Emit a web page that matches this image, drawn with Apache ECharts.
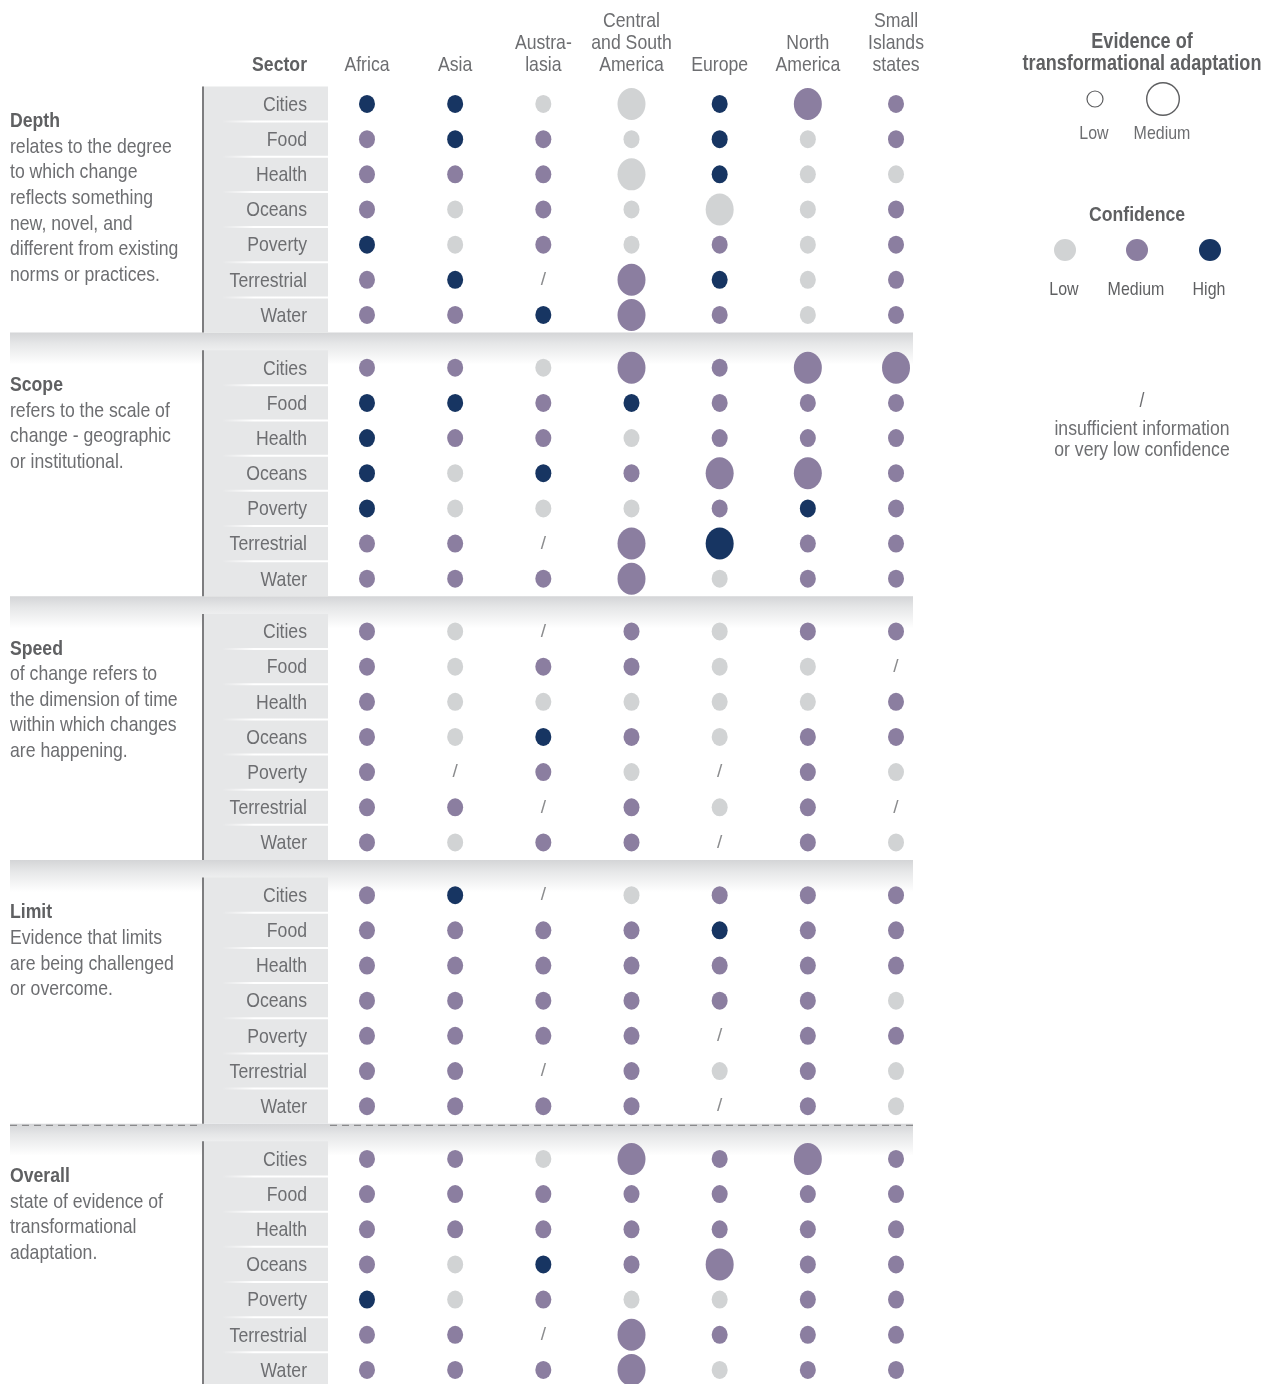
<!DOCTYPE html>
<html>
<head>
<meta charset="utf-8">
<title>Evidence of transformational adaptation</title>
<script src="https://cdn.jsdelivr.net/npm/echarts@6/dist/echarts.min.js"></script>
<style>
  html, body { margin: 0; padding: 0; background: #ffffff; }
  #chart { width: 1262px; height: 1384px; }
</style>
</head>
<body>
<div id="chart"></div>
<script>
// Regions (columns), sectors (rows) and assessment dimensions (row blocks)
const regions = ['Africa', 'Asia', 'Austra-\nlasia', 'Central\nand South\nAmerica', 'Europe', 'North\nAmerica', 'Small\nIslands\nstates'];
const sectors = ['Cities', 'Food', 'Health', 'Oceans', 'Poverty', 'Terrestrial', 'Water'];
const dimensions = ['Depth', 'Scope', 'Speed', 'Limit', 'Overall'];
const dimensionNotes = [
  'relates to the degree\nto which change\nreflects something\nnew, novel, and\ndifferent from existing\nnorms or practices.',
  'refers to the scale of\nchange - geographic\nor institutional.',
  'of change refers to\nthe dimension of time\nwithin which changes\nare happening.',
  'Evidence that limits\nare being challenged\nor overcome.',
  'state of evidence of\ntransformational\nadaptation.'
];

// Cell codes: confidence L / M / H; a trailing "+" marks medium evidence
// (larger dot), otherwise low evidence; "/" = insufficient information.
// One row per sector, one entry per region.
const depth = [
  ['H', 'H', 'L', 'L+', 'H', 'M+', 'M'],
  ['M', 'H', 'M', 'L', 'H', 'L', 'M'],
  ['M', 'M', 'M', 'L+', 'H', 'L', 'L'],
  ['M', 'L', 'M', 'L', 'L+', 'L', 'M'],
  ['H', 'L', 'M', 'L', 'M', 'L', 'M'],
  ['M', 'H', '/', 'M+', 'H', 'L', 'M'],
  ['M', 'M', 'H', 'M+', 'M', 'L', 'M']
];
const scope = [
  ['M', 'M', 'L', 'M+', 'M', 'M+', 'M+'],
  ['H', 'H', 'M', 'H', 'M', 'M', 'M'],
  ['H', 'M', 'M', 'L', 'M', 'M', 'M'],
  ['H', 'L', 'H', 'M', 'M+', 'M+', 'M'],
  ['H', 'L', 'L', 'L', 'M', 'H', 'M'],
  ['M', 'M', '/', 'M+', 'H+', 'M', 'M'],
  ['M', 'M', 'M', 'M+', 'L', 'M', 'M']
];
const speed = [
  ['M', 'L', '/', 'M', 'L', 'M', 'M'],
  ['M', 'L', 'M', 'M', 'L', 'L', '/'],
  ['M', 'L', 'L', 'L', 'L', 'L', 'M'],
  ['M', 'L', 'H', 'M', 'L', 'M', 'M'],
  ['M', '/', 'M', 'L', '/', 'M', 'L'],
  ['M', 'M', '/', 'M', 'L', 'M', '/'],
  ['M', 'L', 'M', 'M', '/', 'M', 'L']
];
const limit = [
  ['M', 'H', '/', 'L', 'M', 'M', 'M'],
  ['M', 'M', 'M', 'M', 'H', 'M', 'M'],
  ['M', 'M', 'M', 'M', 'M', 'M', 'M'],
  ['M', 'M', 'M', 'M', 'M', 'M', 'L'],
  ['M', 'M', 'M', 'M', '/', 'M', 'M'],
  ['M', 'M', '/', 'M', 'L', 'M', 'L'],
  ['M', 'M', 'M', 'M', '/', 'M', 'L']
];
const overall = [
  ['M', 'M', 'L', 'M+', 'M', 'M+', 'M'],
  ['M', 'M', 'M', 'M', 'M', 'M', 'M'],
  ['M', 'M', 'M', 'M', 'M', 'M', 'M'],
  ['M', 'L', 'H', 'M', 'M+', 'M', 'M'],
  ['H', 'L', 'M', 'L', 'L', 'M', 'M'],
  ['M', 'M', '/', 'M+', 'M', 'M', 'M'],
  ['M', 'M', 'M', 'M+', 'L', 'M', 'M']
];
const blocks = [depth, scope, speed, limit, overall];

const FONT = "'Liberation Sans', Arial, sans-serif";
const NARROW = 0.84;           // horizontal squeeze for a condensed look
const TEXT = '#6d6e71';
const TEXT_BOLD = '#5f6062';
const confColor = { L: '#d1d3d4', M: '#8b7ea0', H: '#173562' };

// Each block takes its sector rows plus half a row of spacing
const BLOCK_SPAN = sectors.length + 0.5;
const rowValue = (b, r) => b * BLOCK_SPAN + r;

const dots = [];
const missing = [];
blocks.forEach((rows, b) => {
  rows.forEach((cells, r) => {
    cells.forEach((code, c) => {
      if (code === '/') missing.push([c, rowValue(b, r)]);
      else dots.push([c, rowValue(b, r), code]);
    });
  });
});

const chart = echarts.init(document.getElementById('chart'), null, { renderer: 'canvas' });

chart.setOption({
  animation: false,
  backgroundColor: '#ffffff',
  grid: { left: 322.9, right: 321.9, top: 86.4, bottom: 0, containLabel: false },
  xAxis: {
    type: 'category',
    position: 'top',
    data: regions,
    boundaryGap: true,
    axisLine: { show: false },
    axisTick: { show: false },
    splitLine: { show: false },
    axisLabel: { show: false }
  },
  yAxis: {
    type: 'value',
    inverse: true,
    min: -0.5,
    max: 36.4,
    axisLine: { show: false },
    axisTick: { show: false },
    splitLine: { show: false },
    axisLabel: { show: false }
  },
  series: [
    {
      type: 'scatter',
      data: dots,
      z: 5,
      symbol: 'circle',
      symbolSize: function (d) {
        return d[2].endsWith('+') ? [28, 32] : [16, 18];
      },
      itemStyle: {
        opacity: 1,
        color: function (p) { return confColor[p.data[2][0]]; }
      },
      emphasis: { disabled: true }
    },
    {
      type: 'scatter',
      data: missing,
      z: 5,
      symbolSize: 1,
      itemStyle: { color: 'rgba(0,0,0,0)' },
      label: {
        show: true,
        position: 'inside',
        formatter: '/',
        color: TEXT,
        fontFamily: FONT,
        fontSize: 19
      },
      emphasis: { disabled: true }
    }
  ]
});

// Pixel positions taken from the axis scales
const yOf = v => chart.convertToPixel({ yAxisIndex: 0 }, v);
const xOf = i => chart.convertToPixel({ xAxisIndex: 0 }, i);

// condensed text element: squeezed horizontally around its anchor
function narrowText(text, x, y, opts) {
  return {
    type: 'text', z: 3, x: x, y: y, scaleX: NARROW,
    style: Object.assign({
      text: text, x: 0, y: 0, fontFamily: FONT, fontSize: 21,
      fill: TEXT, textAlign: 'center', textVerticalAlign: 'middle'
    }, opts || {})
  };
}

const g = [];
const PANEL_X = 203, PANEL_R = 328, BAND_L = 10, BAND_R = 913;

blocks.forEach((rows, b) => {
  const top = yOf(rowValue(b, -0.5));
  const bottom = yOf(rowValue(b, sectors.length - 0.5));
  // shaded band under each block
  if (b < blocks.length - 1) {
    g.push({
      type: 'rect', z: 0,
      shape: { x: BAND_L, y: bottom, width: BAND_R - BAND_L, height: 32 },
      style: {
        fill: new echarts.graphic.LinearGradient(0, 0, 0, 1, [
          { offset: 0, color: '#d4d5d7' },
          { offset: 0.35, color: '#e6e7e8' },
          { offset: 1, color: '#ffffff' }
        ])
      }
    });
  }
  // sector label panel
  g.push({
    type: 'rect', z: 1,
    shape: { x: PANEL_X, y: top, width: PANEL_R - PANEL_X, height: bottom - top },
    style: { fill: '#e6e7e8' }
  });
  g.push({
    type: 'rect', z: 2,
    shape: { x: PANEL_X - 1, y: top, width: 2, height: bottom - top },
    style: { fill: '#7d7d7f' }
  });
  for (let r = 0; r < sectors.length - 1; r++) {
    const y = yOf(rowValue(b, r + 0.5));
    g.push({
      type: 'rect', z: 2,
      shape: { x: 222, y: y - 1, width: PANEL_R - 222, height: 2 },
      style: {
        fill: new echarts.graphic.LinearGradient(0, 0, 1, 0, [
          { offset: 0, color: 'rgba(255,255,255,0)' },
          { offset: 0.3, color: '#ffffff' },
          { offset: 1, color: '#ffffff' }
        ])
      }
    });
  }
  // sector labels for the block
  sectors.forEach((name, r) => {
    g.push(narrowText(name, 307, yOf(rowValue(b, r)) + 1, { textAlign: 'right' }));
  });
  // dimension title and description
  const y0 = yOf(rowValue(b, 0)) + 17.5;
  g.push(narrowText(dimensions[b], 10, y0, { textAlign: 'left', fontWeight: 'bold', fill: TEXT_BOLD }));
  g.push(narrowText(dimensionNotes[b], 10, y0 + 25.5 - 12.8, {
    textAlign: 'left', textVerticalAlign: 'top', lineHeight: 25.6
  }));
});

// region headings, bottom line aligned across columns
regions.forEach((name, i) => {
  const lines = name.split('\n');
  const x = xOf(i);
  lines.forEach((line, k) => {
    g.push(narrowText(line, x, 65 - 22 * (lines.length - 1 - k)));
  });
});

// dashed divider ahead of the overall block
{
  const y = yOf(rowValue(3, sectors.length - 0.5)) + 1.5;
  [[BAND_L, PANEL_X - 2], [PANEL_R + 2, BAND_R]].forEach(([a, c]) => {
    g.push({
      type: 'line', z: 3,
      shape: { x1: a, y1: y, x2: c, y2: y },
      style: { stroke: '#8a8a8c', lineWidth: 1.2, lineDash: [7, 5] }
    });
  });
}

// column heading for the sector labels
g.push(narrowText('Sector', 307, 65, { textAlign: 'right', fontWeight: 'bold', fill: TEXT_BOLD }));

// Legend
g.push(narrowText('Evidence of', 1142, 42, { fontSize: 21.5, fontWeight: 'bold', fill: TEXT_BOLD }));
g.push(narrowText('transformational adaptation', 1142, 64, { fontSize: 21.5, fontWeight: 'bold', fill: TEXT_BOLD }));
g.push({ type: 'circle', z: 3, shape: { cx: 1095, cy: 99, r: 8 }, style: { fill: '#ffffff', stroke: '#5d5e60', lineWidth: 1.2 } });
g.push({ type: 'circle', z: 3, shape: { cx: 1163, cy: 99, r: 16.3 }, style: { fill: '#ffffff', stroke: '#5d5e60', lineWidth: 1.4 } });
g.push(narrowText('Low', 1094, 134, { fontSize: 19 }));
g.push(narrowText('Medium', 1162, 134, { fontSize: 19 }));

g.push(narrowText('Confidence', 1137, 215, { fontWeight: 'bold', fill: TEXT_BOLD }));
[['L', 1065, 'Low'], ['M', 1137, 'Medium'], ['H', 1210, 'High']].forEach(([k, x, label]) => {
  g.push({ type: 'circle', z: 3, shape: { cx: x, cy: 250, r: 11 }, style: { fill: confColor[k] } });
  g.push(narrowText(label, x - 1, 290, { fontSize: 19, fill: '#5f6062' }));
});

g.push(narrowText('/', 1142, 401));
g.push(narrowText('insufficient information', 1142, 429));
g.push(narrowText('or very low confidence', 1142, 450));

chart.setOption({ graphic: { elements: g } });
</script>
</body>
</html>
